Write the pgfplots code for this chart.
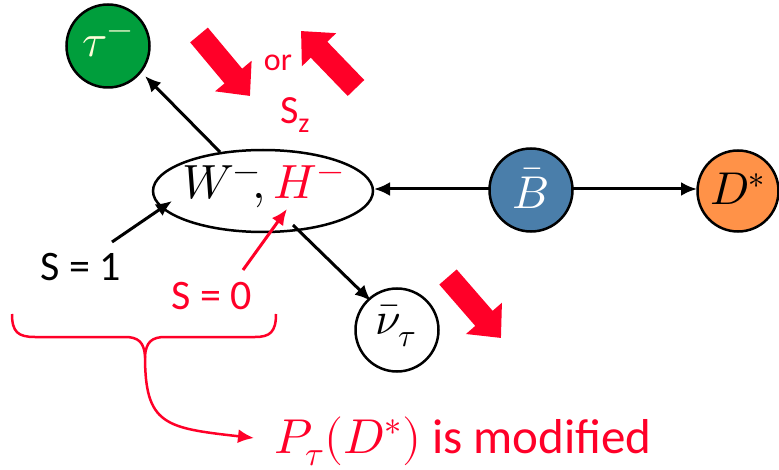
\documentclass[border=0pt]{standalone}
\usepackage{fontspec}
\usepackage{unicode-math}
\setmainfont{Carlito}
\setmathfont{Latin Modern Math}
\usepackage{pgfplots}
\pgfplotsset{compat=1.18}
\usetikzlibrary{arrows.meta}
\definecolor{pred}{RGB}{255,0,40}
\definecolor{tgreen}{RGB}{0,158,60}
\definecolor{bblue}{RGB}{74,126,170}
\definecolor{dorange}{RGB}{255,146,72}
\begin{document}
\begin{tikzpicture}
\begin{axis}[
  set layers,
  width=779pt, height=469pt, scale only axis,
  xmin=0, xmax=779, ymin=0, ymax=469, y dir=reverse,
  axis lines=none, clip=false,
]
\draw[black, line width=2.5pt, fill=white] (axis cs:263,191) ellipse [x radius=110, y radius=41];
% black arrows
\addplot[black, line width=3pt, -{Latex[length=16pt,width=14pt]}] coordinates {(220,152) (145,76)};
\addplot[black, line width=3pt, -{Latex[length=16pt,width=14pt]}] coordinates {(489,189) (374,189)};
\addplot[black, line width=3pt, -{Latex[length=16pt,width=14pt]}] coordinates {(573,189) (697,189)};
\addplot[black, line width=3pt, -{Latex[length=16pt,width=14pt]}] coordinates {(112,242) (172,201)};
\addplot[black, line width=3pt, -{Latex[length=16pt,width=14pt]}] coordinates {(293,225) (371,301)};
\addplot[pred, line width=3pt, -{Latex[length=16pt,width=14pt]}] coordinates {(243,270) (287,209)};
% thick red spin arrows
\addplot[pred, line width=23pt, -{Triangle[length=26pt,width=46pt]}] coordinates {(199,35) (250,96)};
\addplot[pred, line width=23pt, -{Triangle[length=26pt,width=46pt]}] coordinates {(356,88) (301,31)};
\addplot[pred, line width=23pt, -{Triangle[length=26pt,width=46pt]}] coordinates {(448,277) (501,338)};
% particles
\addplot[only marks, mark=*, mark size=41.5pt, mark options={fill=tgreen, draw=black, line width=2.5pt}] coordinates {(108,46)};
\addplot[only marks, mark=*, mark size=41.5pt, mark options={fill=bblue, draw=black, line width=2.5pt}] coordinates {(531,190)};
\addplot[only marks, mark=*, mark size=40.5pt, mark options={fill=dorange, draw=black, line width=2.5pt}] coordinates {(738,191)};
\addplot[only marks, mark=*, mark size=41.5pt, mark options={fill=white, draw=black, line width=2.5pt}] coordinates {(397,330)};
% labels
\begin{pgfonlayer}{axis foreground}
\node[text=yellow!15!white] at (axis cs:108,44) {\fontsize{46}{50}\selectfont$\tau^-$};
\node[text=white] at (axis cs:531,188) {\fontsize{46}{50}\selectfont$\bar{B}$};
\node at (axis cs:738,189) {\fontsize{46}{50}\selectfont$D^*$};
\node at (axis cs:396,326) {\fontsize{46}{50}\selectfont$\bar{\nu}_\tau$};
\end{pgfonlayer}
\node at (axis cs:263,187) {\fontsize{48}{52}\selectfont$W^-\!,\textcolor{pred}{H^-}$};
\node[text=pred] at (axis cs:278,63) {\fontsize{32}{36}\selectfont or};
\node[text=pred] at (axis cs:295,115) {\fontsize{40}{44}\selectfont S\textsubscript{z}};
\node at (axis cs:81,267) {\fontsize{42}{46}\selectfont S = 1};
\node[text=pred] at (axis cs:212,296) {\fontsize{42}{46}\selectfont S = 0};
\node[text=pred, anchor=base west, inner sep=0pt] at (axis cs:274,453) {\fontsize{49}{54}\selectfont$P_\tau(D^*)$ is modified};
% brace
\draw[pred, line width=2.5pt] (axis cs:12,314) .. controls (axis cs:12,332) and (axis cs:18,337) .. (axis cs:35,337) -- (axis cs:125,337) .. controls (axis cs:138,337) and (axis cs:144,342) .. (axis cs:145,356) .. controls (axis cs:146,342) and (axis cs:152,337) .. (axis cs:165,337) -- (axis cs:255,337) .. controls (axis cs:270,337) and (axis cs:276,332) .. (axis cs:276,314);
\draw[pred, line width=2.5pt, -{Latex[length=16pt,width=14pt]}] (axis cs:145,356) .. controls (axis cs:145,425) and (axis cs:165,428) .. (axis cs:254,438);
\end{axis}
\pgfresetboundingbox
\path (current axis.south west) rectangle (current axis.north east);
\end{tikzpicture}
\end{document}
